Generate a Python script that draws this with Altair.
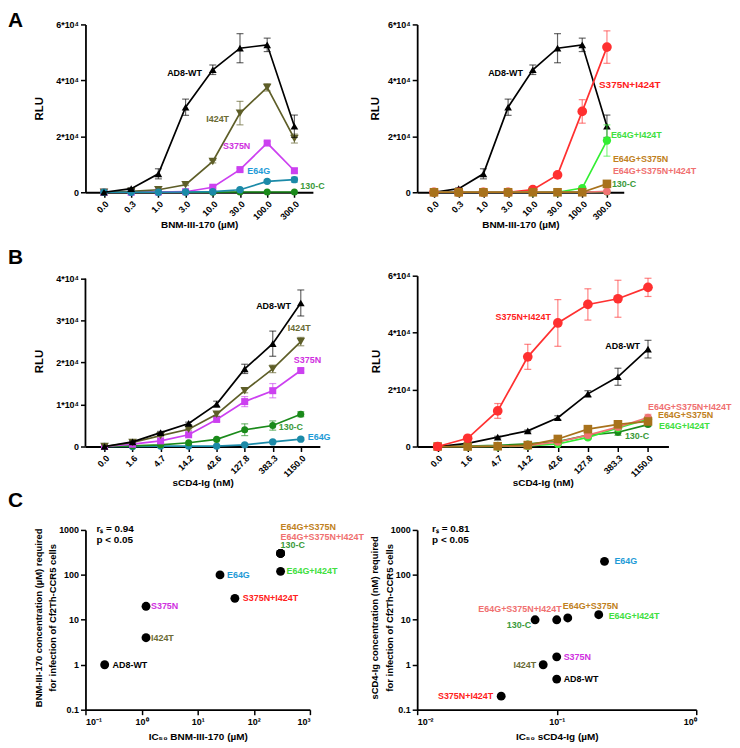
import altair as alt
import pandas as pd

FONT = "Liberation Sans"

# ---------------- data ----------------
conc_bnm = ["0.0", "0.3", "1.0", "3.0", "10.0", "30.0", "100.0", "300.0"]
conc_scd4 = ["0.0", "1.6", "4.7", "14.2", "42.6", "127.8", "383.3", "1150.0"]

# Panel A: RLU vs BNM-III-170 (mean and error)
a_wt = [0, 1300, 6600, 30400, 43800, 51500, 52700, 23600]
a_wt_err = [0, 300, 1800, 2900, 1700, 5200, 2400, 4000]
a_i424t = [0, 300, 900, 2700, 11000, 28300, 37500, 19200]
a_i424t_err = [0, 0, 0, 300, 500, 4200, 1300, 1600]
a_s375n = [0, 0, 100, 200, 1800, 8100, 17600, 7700]
a_s375n_err = [0, 0, 0, 0, 300, 500, 600, 800]
a_e64g = [0, 0, 0, 100, 200, 900, 3900, 4500]
a_e64g_err = [0, 0, 0, 0, 0, 300, 400, 900]
a_130c = [0, 0, 0, 0, 0, 100, 100, 100]
a_130c_err = [0, 0, 0, 0, 0, 0, 0, 0]
a_s375n_i424t = [0, 0, 0, 0, 950, 6200, 28900, 51900]
a_s375n_i424t_err = [0, 0, 0, 0, 200, 600, 4200, 5800]
a_e64g_i424t = [0, 0, 0, 0, 0, 0, 1500, 18500]
a_e64g_i424t_err = [0, 0, 0, 0, 0, 0, 300, 5600]
a_e64g_s375n = [0, 0, 0, 0, 0, 0, 0, 3000]
a_e64g_s375n_err = [0, 0, 0, 0, 0, 0, 0, 0]
a_e64g_s375n_i424t = [0, 0, 0, 0, 0, 0, 0, 300]
a_e64g_s375n_i424t_err = [0, 0, 0, 0, 0, 0, 0, 0]

# Panel B: RLU vs sCD4-Ig
b_wt = [0, 1100, 3300, 5500, 10100, 18500, 24500, 34200]
b_wt_err = [0, 200, 300, 300, 700, 1100, 3000, 3100]
b_i424t = [0, 950, 2600, 4100, 7700, 13300, 18500, 25000]
b_i424t_err = [0, 0, 200, 200, 500, 500, 900, 1000]
b_s375n = [0, 550, 1350, 2800, 6450, 10700, 13300, 18100]
b_s375n_err = [0, 0, 0, 200, 500, 1200, 1700, 400]
b_130c = [0, 150, 400, 900, 1700, 4000, 5000, 7700]
b_130c_err = [0, 0, 0, 0, 200, 1400, 1100, 600]
b_e64g = [0, 0, 100, 100, 100, 400, 1100, 1750]
b_e64g_err = [0, 0, 0, 0, 0, 100, 200, 300]
b_s375n_i424t = [0, 2900, 12500, 31500, 43400, 49900, 51900, 55900]
b_s375n_i424t_err = [0, 300, 2600, 4400, 8200, 5500, 6500, 3200]
b_e64g_s375n_i424t = [0, 0, 100, 300, 1600, 4000, 6800, 10200]
b_e64g_s375n_i424t_err = [0, 0, 0, 0, 300, 500, 600, 1100]
b_e64g_s375n = [0, 0, 100, 500, 2650, 6100, 7800, 8800]
b_e64g_s375n_err = [0, 0, 0, 0, 300, 400, 500, 600]
b_e64g_i424t = [0, 0, 0, 200, 900, 3200, 6500, 9600]
b_e64g_i424t_err = [0, 0, 0, 0, 200, 400, 500, 800]

# Panel C: correlation scatter
c_names = ["AD8-WT", "I424T", "S375N", "E64G", "S375N+I424T", "E64G+I424T",
           "E64G+S375N", "E64G+S375N+I424T", "130-C"]
c_bnm_ic50 = [0.22, 1.2, 1.2, 25, 46, 300, 300, 300, 300]
c_bnm_req = [1, 4, 20, 100, 30, 120, 300, 300, 300]
c_scd4_ic50 = [0.1, 0.08, 0.1, 0.22, 0.04, 0.2, 0.12, 0.1, 0.07]
c_scd4_req = [0.48, 1, 1.5, 200, 0.2, 13, 11, 10, 10]

# ---------------- styles ----------------
LINE_COL = {
    "AD8-WT": "#000000", "I424T": "#5e5e28", "S375N": "#cc40f0", "E64G": "#1b8aa8",
    "130-C": "#1a8a1a", "S375N+I424T": "#ff3030", "E64G+I424T": "#33ee33",
    "E64G+S375N": "#a8721c", "E64G+S375N+I424T": "#f07474",
}
LABEL_COL = {
    "AD8-WT": "#000000", "I424T": "#6b6b35", "S375N": "#d030e0", "E64G": "#1e9bd7",
    "130-C": "#3a9a3a", "S375N+I424T": "#ff2020", "E64G+I424T": "#40e040",
    "E64G+S375N": "#c08020", "E64G+S375N+I424T": "#f07070",
}
SHAPE = {
    "AD8-WT": ("triangle-up", 60), "I424T": ("triangle-down", 75), "S375N": ("square", 50),
    "E64G": ("circle", 55), "130-C": ("circle", 50), "S375N+I424T": ("circle", 95),
    "E64G+I424T": ("circle", 70), "E64G+S375N": ("square", 75), "E64G+S375N+I424T": ("circle", 60),
}


def series_layers(X, Y, cats, vals, errs, name):
    color = LINE_COL[name]
    shape, size = SHAPE[name]
    out = []
    idx = [i for i, e in enumerate(errs) if e > 0]
    if idx:
        lo = pd.DataFrame({"c": [cats[i] for i in idx],
                           "v": [vals[i] - errs[i] for i in idx],
                           "v2": [vals[i] + errs[i] for i in idx]})
        hi = pd.DataFrame({"c": [cats[i] for i in idx],
                           "v": [vals[i] + errs[i] for i in idx]})
        out.append(alt.Chart(lo).mark_rule(color=color, opacity=0.6, strokeWidth=1.2)
                   .encode(x=X, y=Y, y2="v2:Q"))
        out.append(alt.Chart(lo).mark_tick(color=color, opacity=0.6, size=7, thickness=1.2)
                   .encode(x=X, y=Y))
        out.append(alt.Chart(hi).mark_tick(color=color, opacity=0.6, size=7, thickness=1.2)
                   .encode(x=X, y=Y))
    df = pd.DataFrame({"c": cats, "v": vals})
    out.append(alt.Chart(df).mark_line(color=color, strokeWidth=1.7).encode(x=X, y=Y))
    out.append(alt.Chart(df).mark_point(filled=True, shape=shape, size=size, color=color,
                                        opacity=1, strokeWidth=0).encode(x=X, y=Y))
    return out


def letter_layer(letter, y):
    return alt.Chart(pd.DataFrame({"t": [letter]})).mark_text(
        align="left", baseline="alphabetic", font=FONT, fontSize=21, fontWeight="bold",
        color="black").encode(x=alt.value(-78), y=alt.value(y), text="t:N")


def xy_panel(cats, width, height, ydom, yvals, yexpr, ytitle_x, xtitle, xtitle_y,
             series, labels, letter=None, letter_y=0, axis_top=None):
    X = alt.X("c:N", scale=alt.Scale(type="point", domain=cats, padding=0.68),
              axis=alt.Axis(title=xtitle, labelAngle=-45, labelAlign="right",
                            labelBaseline="top", labelPadding=2, titleY=xtitle_y,
                            titleBaseline="middle", titleFontSize=10))
    Y = alt.Y("v:Q", scale=alt.Scale(domain=[0, ydom], nice=False, zero=True),
              axis=alt.Axis(title="RLU", values=yvals, labelExpr=yexpr, titleX=ytitle_x,
                            titleY=height / 2, titleAngle=270, titleAlign="center",
                            titleBaseline="middle", titleFontSize=11.5,
                            domain=axis_top is None))
    layers = []
    if axis_top is not None:
        layers.append(alt.Chart(pd.DataFrame({"v": [0], "v2": [axis_top]}))
                      .mark_rule(color="black", strokeWidth=1.8)
                      .encode(x=alt.value(0), y=Y, y2="v2:Q"))
    lookup = {}
    for name, vals, errs in series:
        lookup[name] = vals
        layers += series_layers(X, Y, cats, vals, errs, name)
    for lab in labels:
        text, name, cat, align, dx, dy = lab[:6]
        fs = lab[6] if len(lab) > 6 else 9
        v = lookup[name][cats.index(cat)]
        layers.append(alt.Chart(pd.DataFrame({"c": [cat], "v": [v], "t": [text]}))
                      .mark_text(align=align, baseline="middle", dx=dx, dy=dy, font=FONT,
                                 fontSize=fs, fontWeight="bold", color=LABEL_COL[text])
                      .encode(x=X, y=Y, text="t:N"))
    if letter:
        layers.append(letter_layer(letter, letter_y))
    return alt.layer(*layers).properties(width=width, height=height)


def scatter_panel(xs, ys, xdom, xvals, xexpr, width, height, xtitle, ytitle, ytitle_xs,
                  lab_style, rs, rs_x, letter=None, letter_y=0):
    X = alt.X("x:Q", scale=alt.Scale(type="log", domain=xdom, nice=False),
              axis=alt.Axis(title=xtitle, values=xvals, labelExpr=xexpr, titleY=27,
                            titleBaseline="middle", titleFontSize=10, labelPadding=3))
    Y = alt.Y("y:Q", scale=alt.Scale(type="log", domain=[0.1, 1000], nice=False),
              axis=alt.Axis(title=None, values=[0.1, 1, 10, 100, 1000],
                            labelExpr="datum.value < 1 ? '0.1' : format(datum.value, 'd')"))
    df = pd.DataFrame({"x": xs, "y": ys, "n": c_names})
    layers = [alt.Chart(df).mark_circle(size=80, color="black", opacity=1).encode(x=X, y=Y)]
    for i, name in enumerate(c_names):
        align, dx, dy = lab_style[name]
        sub = pd.DataFrame({"x": [xs[i]], "y": [ys[i]], "n": [name]})
        layers.append(alt.Chart(sub).mark_text(align=align, baseline="middle", dx=dx, dy=dy,
                                               font=FONT, fontSize=9, fontWeight="bold",
                                               color=LABEL_COL[name])
                      .encode(x=X, y=Y, text="n:N"))
    for k, line in enumerate(rs):
        layers.append(alt.Chart(pd.DataFrame({"t": [line]})).mark_text(
            align="left", baseline="middle", font=FONT, fontSize=10, fontWeight="bold",
            color="black").encode(x=alt.value(rs_x), y=alt.value(-1 + 11 * k), text="t:N"))
    # two-line y-axis title
    for line, tx in zip(ytitle, ytitle_xs):
        layers.append(alt.Chart(pd.DataFrame({"t": [line]})).mark_text(
            align="center", baseline="middle", angle=270, font=FONT, fontSize=9.5,
            fontWeight="bold", color="black").encode(
            x=alt.value(tx), y=alt.value(height / 2 - 2), text="t:N"))
    if letter:
        layers.append(letter_layer(letter, letter_y))
    return alt.layer(*layers).properties(width=width, height=height)


rlu_expr = "datum.value == 0 ? '0' : (datum.value / 10000) + '*10⁴'"

A1 = xy_panel(
    conc_bnm, 229, 169, 60000, [0, 20000, 40000, 60000], rlu_expr, -46,
    "BNM-III-170 (µM)", 32,
    [("130-C", a_130c, a_130c_err), ("S375N", a_s375n, a_s375n_err),
     ("I424T", a_i424t, a_i424t_err), ("E64G", a_e64g, a_e64g_err),
     ("AD8-WT", a_wt, a_wt_err)],
    [("AD8-WT", "AD8-WT", "10.0", "right", -11, 3),
     ("I424T", "I424T", "30.0", "right", -11, 6),
     ("S375N", "S375N", "100.0", "right", -17, 3),
     ("E64G", "E64G", "100.0", "right", 3, -10),
     ("130-C", "130-C", "300.0", "left", 6, -6)],
    letter="A", letter_y=3)

A2 = xy_panel(
    conc_bnm, 208, 169, 60000, [0, 20000, 40000, 60000], rlu_expr, -42,
    "BNM-III-170 (µM)", 32,
    [("AD8-WT", a_wt, a_wt_err), ("S375N+I424T", a_s375n_i424t, a_s375n_i424t_err),
     ("E64G+I424T", a_e64g_i424t, a_e64g_i424t_err), ("130-C", a_130c, a_130c_err),
     ("E64G+S375N+I424T", a_e64g_s375n_i424t, a_e64g_s375n_i424t_err),
     ("E64G+S375N", a_e64g_s375n, a_e64g_s375n_err)],
    [("AD8-WT", "AD8-WT", "10.0", "right", -10, 3),
     ("S375N+I424T", "S375N+I424T", "300.0", "left", -8, 38, 10),
     ("E64G+I424T", "E64G+I424T", "300.0", "left", 4, -6),
     ("E64G+S375N", "E64G+S375N", "300.0", "left", 6, -25),
     ("E64G+S375N+I424T", "E64G+S375N+I424T", "300.0", "left", 6, -21),
     ("130-C", "130-C", "300.0", "left", 5, -8)])

B1 = xy_panel(
    conc_scd4, 236, 172, 40700, [0, 10000, 20000, 30000, 40000], rlu_expr, -46,
    "sCD4-Ig (nM)", 36,
    [("E64G", b_e64g, b_e64g_err), ("130-C", b_130c, b_130c_err),
     ("S375N", b_s375n, b_s375n_err), ("I424T", b_i424t, b_i424t_err),
     ("AD8-WT", b_wt, b_wt_err)],
    [("AD8-WT", "AD8-WT", "1150.0", "right", -10, 3),
     ("I424T", "I424T", "1150.0", "left", -13, -14),
     ("S375N", "S375N", "1150.0", "left", -7, -11),
     ("130-C", "130-C", "383.3", "left", 6, 2),
     ("E64G", "E64G", "1150.0", "left", 7, -2)],
    letter="B", letter_y=-12, axis_top=40000)

B2 = xy_panel(
    conc_scd4, 253, 172, 60000, [0, 20000, 40000, 60000], rlu_expr, -41,
    "sCD4-Ig (nM)", 36,
    [("130-C", b_130c, b_130c_err), ("E64G+I424T", b_e64g_i424t, b_e64g_i424t_err),
     ("E64G+S375N+I424T", b_e64g_s375n_i424t, b_e64g_s375n_i424t_err),
     ("AD8-WT", b_wt, b_wt_err), ("E64G+S375N", b_e64g_s375n, b_e64g_s375n_err),
     ("S375N+I424T", b_s375n_i424t, b_s375n_i424t_err)],
    [("S375N+I424T", "S375N+I424T", "42.6", "right", -7, -6),
     ("AD8-WT", "AD8-WT", "1150.0", "right", -8, -3),
     ("E64G+S375N+I424T", "E64G+S375N+I424T", "1150.0", "left", 0, -11),
     ("E64G+S375N", "E64G+S375N", "1150.0", "left", 10, -6),
     ("E64G+I424T", "E64G+I424T", "1150.0", "left", 11, 7),
     ("130-C", "130-C", "383.3", "left", 7, 4)])

sup_expr = "'10' + ['⁻²', '⁻¹', '⁰', '¹', '²', '³'][round(log(datum.value) / LN10) + 2]"

C1 = scatter_panel(
    c_bnm_ic50, c_bnm_req, [0.1, 1000], [0.1, 1, 10, 100, 1000], sup_expr, 226, 181,
    "IC₅₀ BNM-III-170 (µM)",
    ["BNM-III-170 concentration (µM) required", "for infection of Cf2Th-CCR5 cells"],
    [-47, -33],
    {"AD8-WT": ("left", 8, 0), "I424T": ("left", 5, 0), "S375N": ("left", 5, 0),
     "E64G": ("left", 7, 0), "S375N+I424T": ("left", 8, 0), "E64G+I424T": ("left", 6, 0),
     "E64G+S375N": ("left", 0, -27), "E64G+S375N+I424T": ("left", 0, -17),
     "130-C": ("left", 0, -8)},
    ["rₛ = 0.94", "p < 0.05"], 11, letter="C", letter_y=-23)

C2 = scatter_panel(
    c_scd4_ic50, c_scd4_req, [0.01, 1], [0.01, 0.1, 1], sup_expr, 281, 181,
    "IC₅₀ sCD4-Ig (µM)",
    ["sCD4-Ig concentration (nM) required", "for infection of Cf2Th-CCR5 cells"],
    [-42, -27],
    {"E64G": ("left", 10, 0), "E64G+I424T": ("left", 10, 1), "E64G+S375N": ("left", -5, -12),
     "E64G+S375N+I424T": ("right", 5, -11), "130-C": ("right", -4, 5),
     "S375N": ("left", 7, 0), "I424T": ("right", -7, 0), "AD8-WT": ("left", 7, 0),
     "S375N+I424T": ("right", -8, 0)},
    ["rₛ = 0.81", "p < 0.05"], 15)

chart = alt.concat(
    A1, A2, B1, B2, C1, C2, columns=2,
    spacing={"row": 84, "column": 98}, bounds="flush",
).properties(padding=0).configure_view(stroke=None).configure_axis(
    domainColor="black", domainWidth=1.8, tickColor="black", tickWidth=1.5, tickSize=5,
    labelFont=FONT, labelFontSize=9, labelFontWeight="bold", labelColor="black",
    titleFont=FONT, titleFontWeight="bold", titleColor="black", grid=False,
)

chart.save("out.html", embed_options={"renderer": "svg", "actions": False})
